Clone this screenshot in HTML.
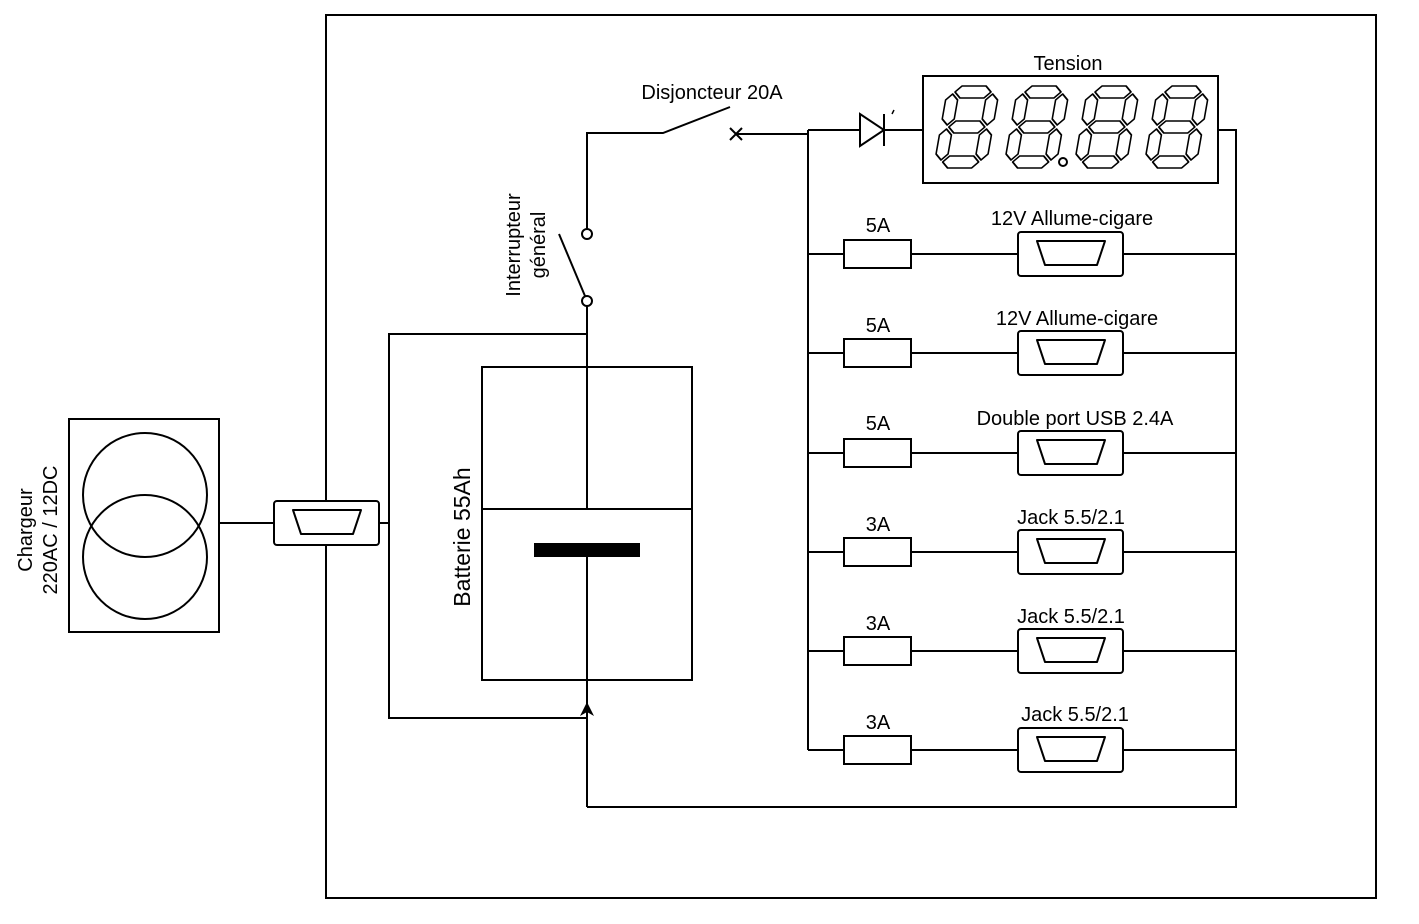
<!DOCTYPE html>
<html><head><meta charset="utf-8"><style>
html,body{margin:0;padding:0;background:#fff}
svg{display:block}
text{font-family:"Liberation Sans",sans-serif;fill:#000}
</style></head><body>
<svg width="1419" height="924" viewBox="0 0 1419 924" xmlns="http://www.w3.org/2000/svg">
<defs>
<g id="dig" fill="none" stroke="#000" stroke-width="1.6" stroke-linejoin="round">
<polygon points="2,0 8,-6 32,-6 38,0 32,6 8,6"/>
<polygon points="2,35 8,29 32,29 38,35 32,41 8,41"/>
<polygon points="2,70 8,64 32,64 38,70 32,76 8,76"/>
<polygon points="0,2 6,8 6,27 0,33 -6,27 -6,8"/>
<polygon points="0,37 6,43 6,62 0,68 -6,62 -6,43"/>
<polygon points="40,2 46,8 46,27 40,33 34,27 34,8"/>
<polygon points="40,37 46,43 46,62 40,68 34,62 34,43"/>
</g>
<g id="conn">
<rect x="0" y="0" width="105" height="44" rx="3" fill="#fff" stroke="#000" stroke-width="2"/>
<polygon points="19,9 87,9 79,33 27,33" fill="none" stroke="#000" stroke-width="2" stroke-linejoin="round"/>
</g>
</defs>
<g stroke="#000" stroke-width="2" fill="none">
<rect x="326" y="15" width="1050" height="883"/>
<rect x="69" y="419" width="150" height="213"/>
<circle cx="145" cy="495" r="62"/>
<circle cx="145" cy="557" r="62"/>
<line x1="220" y1="523" x2="274" y2="523"/>
<line x1="379" y1="523" x2="389" y2="523"/>
<polyline points="587,334 389,334 389,718 587,718"/>
<rect x="482" y="367" width="210" height="313"/>
<line x1="482" y1="509" x2="692" y2="509"/>
<line x1="587" y1="306" x2="587" y2="509"/>
<line x1="587" y1="557" x2="587" y2="807"/>
<polyline points="587,807 1236,807 1236,130 1218,130"/>
<circle cx="587" cy="234" r="5"/>
<circle cx="587" cy="301" r="5"/>
<line x1="585" y1="296" x2="559" y2="234"/>
<polyline points="587,229 587,133 663,133 730,107"/>
<path d="M730,128 L742,140 M730,140 L742,128"/>
<line x1="736" y1="134" x2="808" y2="134"/>
<line x1="808" y1="130" x2="808" y2="750"/>
<line x1="808" y1="130" x2="860" y2="130"/>
<polygon points="860,114 860,146 884,130"/>
<line x1="884" y1="114" x2="884" y2="146"/>
<line x1="894" y1="110" x2="892" y2="114" stroke-width="1.5"/>
<line x1="884" y1="130" x2="923" y2="130"/>
<rect x="923" y="76" width="295" height="107"/>
<circle cx="1063" cy="162" r="4"/>
</g>
<rect x="534" y="543" width="106" height="14" fill="#000"/>
<polygon points="587,702 580,716 587,712 594,716" fill="#000"/>
<use href="#conn" x="274" y="501"/>
<g transform="translate(953,92) skewX(-10)"><use href="#dig"/></g>
<g transform="translate(1023,92) skewX(-10)"><use href="#dig"/></g>
<g transform="translate(1093,92) skewX(-10)"><use href="#dig"/></g>
<g transform="translate(1163,92) skewX(-10)"><use href="#dig"/></g>
<g stroke="#000" stroke-width="2" fill="none">
<path d="M808,254H1236 M808,353H1236 M808,453H1236 M808,552H1236 M808,651H1236 M808,750H1236"/>
<rect x="844" y="240" width="67" height="28" fill="#fff"/>
<rect x="844" y="339" width="67" height="28" fill="#fff"/>
<rect x="844" y="439" width="67" height="28" fill="#fff"/>
<rect x="844" y="538" width="67" height="28" fill="#fff"/>
<rect x="844" y="637" width="67" height="28" fill="#fff"/>
<rect x="844" y="736" width="67" height="28" fill="#fff"/>
</g>
<use href="#conn" x="1018" y="232"/>
<use href="#conn" x="1018" y="331"/>
<use href="#conn" x="1018" y="431"/>
<use href="#conn" x="1018" y="530"/>
<use href="#conn" x="1018" y="629"/>
<use href="#conn" x="1018" y="728"/>
<g font-size="20" text-anchor="middle">
<text x="878" y="232">5A</text>
<text x="878" y="332">5A</text>
<text x="878" y="430">5A</text>
<text x="878" y="531">3A</text>
<text x="878" y="630">3A</text>
<text x="878" y="729">3A</text>
<text x="1072" y="225">12V Allume-cigare</text>
<text x="1077" y="325">12V Allume-cigare</text>
<text x="1075" y="425">Double port USB 2.4A</text>
<text x="1071" y="524">Jack 5.5/2.1</text>
<text x="1071" y="623">Jack 5.5/2.1</text>
<text x="1075" y="721">Jack 5.5/2.1</text>
<text x="1068" y="70">Tension</text>
<text x="712" y="99">Disjoncteur 20A</text>
<text transform="translate(520,245) rotate(-90)">Interrupteur</text>
<text transform="translate(545,245) rotate(-90)">général</text>
<text transform="translate(32,530) rotate(-90)">Chargeur</text>
<text transform="translate(57,530) rotate(-90)">220AC / 12DC</text>
<text font-size="23" transform="translate(470,537) rotate(-90)">Batterie 55Ah</text>
</g>
</svg>
</body></html>
